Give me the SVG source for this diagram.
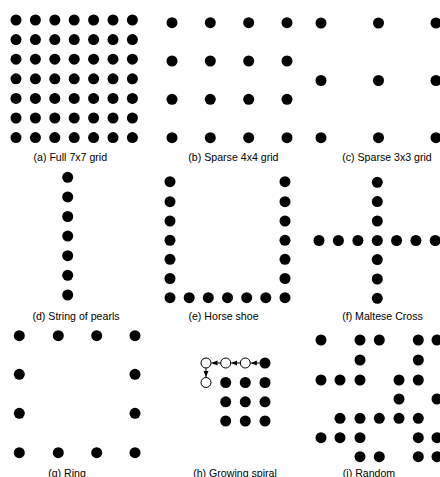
<svg xmlns="http://www.w3.org/2000/svg" width="440" height="477" viewBox="0 0 440 477">
<defs>
<style>
.d{fill:#000}
.o{fill:#fff;stroke:#000;stroke-width:1}
.lbl{font-family:"Liberation Sans",Arial,sans-serif;font-size:10.6px;fill:#000;text-anchor:middle}
.c{stroke:#000;stroke-width:1;fill:none}
</style>
<marker id="ah" markerUnits="userSpaceOnUse" markerWidth="6" markerHeight="6" refX="6" refY="3" orient="auto">
<path d="M0,0.5 L6,3 L0,5.5 z" fill="#000"/>
</marker>
</defs>
<rect width="440" height="477" fill="#fff"/>

<g id="panel-a">
<g id="a-dots">
<circle class="d" cx="16" cy="20" r="5.5"/><circle class="d" cx="35.4" cy="20" r="5.5"/><circle class="d" cx="54.8" cy="20" r="5.5"/><circle class="d" cx="74.2" cy="20" r="5.5"/><circle class="d" cx="93.6" cy="20" r="5.5"/><circle class="d" cx="113" cy="20" r="5.5"/><circle class="d" cx="132.4" cy="20" r="5.5"/>
<circle class="d" cx="16" cy="39.6" r="5.5"/><circle class="d" cx="35.4" cy="39.6" r="5.5"/><circle class="d" cx="54.8" cy="39.6" r="5.5"/><circle class="d" cx="74.2" cy="39.6" r="5.5"/><circle class="d" cx="93.6" cy="39.6" r="5.5"/><circle class="d" cx="113" cy="39.6" r="5.5"/><circle class="d" cx="132.4" cy="39.6" r="5.5"/>
<circle class="d" cx="16" cy="59.2" r="5.5"/><circle class="d" cx="35.4" cy="59.2" r="5.5"/><circle class="d" cx="54.8" cy="59.2" r="5.5"/><circle class="d" cx="74.2" cy="59.2" r="5.5"/><circle class="d" cx="93.6" cy="59.2" r="5.5"/><circle class="d" cx="113" cy="59.2" r="5.5"/><circle class="d" cx="132.4" cy="59.2" r="5.5"/>
<circle class="d" cx="16" cy="78.8" r="5.5"/><circle class="d" cx="35.4" cy="78.8" r="5.5"/><circle class="d" cx="54.8" cy="78.8" r="5.5"/><circle class="d" cx="74.2" cy="78.8" r="5.5"/><circle class="d" cx="93.6" cy="78.8" r="5.5"/><circle class="d" cx="113" cy="78.8" r="5.5"/><circle class="d" cx="132.4" cy="78.8" r="5.5"/>
<circle class="d" cx="16" cy="98.4" r="5.5"/><circle class="d" cx="35.4" cy="98.4" r="5.5"/><circle class="d" cx="54.8" cy="98.4" r="5.5"/><circle class="d" cx="74.2" cy="98.4" r="5.5"/><circle class="d" cx="93.6" cy="98.4" r="5.5"/><circle class="d" cx="113" cy="98.4" r="5.5"/><circle class="d" cx="132.4" cy="98.4" r="5.5"/>
<circle class="d" cx="16" cy="118" r="5.5"/><circle class="d" cx="35.4" cy="118" r="5.5"/><circle class="d" cx="54.8" cy="118" r="5.5"/><circle class="d" cx="74.2" cy="118" r="5.5"/><circle class="d" cx="93.6" cy="118" r="5.5"/><circle class="d" cx="113" cy="118" r="5.5"/><circle class="d" cx="132.4" cy="118" r="5.5"/>
<circle class="d" cx="16" cy="137.6" r="5.5"/><circle class="d" cx="35.4" cy="137.6" r="5.5"/><circle class="d" cx="54.8" cy="137.6" r="5.5"/><circle class="d" cx="74.2" cy="137.6" r="5.5"/><circle class="d" cx="93.6" cy="137.6" r="5.5"/><circle class="d" cx="113" cy="137.6" r="5.5"/><circle class="d" cx="132.4" cy="137.6" r="5.5"/>
</g>
<text class="lbl" x="70.3" y="160.8">(a) Full 7x7 grid</text>
</g>

<g id="panel-b">
<circle class="d" cx="172" cy="22.7" r="5.5"/><circle class="d" cx="210.3" cy="22.7" r="5.5"/><circle class="d" cx="248.7" cy="22.7" r="5.5"/><circle class="d" cx="287" cy="22.7" r="5.5"/>
<circle class="d" cx="172" cy="61" r="5.5"/><circle class="d" cx="210.3" cy="61" r="5.5"/><circle class="d" cx="248.7" cy="61" r="5.5"/><circle class="d" cx="287" cy="61" r="5.5"/>
<circle class="d" cx="172" cy="99.3" r="5.5"/><circle class="d" cx="210.3" cy="99.3" r="5.5"/><circle class="d" cx="248.7" cy="99.3" r="5.5"/><circle class="d" cx="287" cy="99.3" r="5.5"/>
<circle class="d" cx="172" cy="137.7" r="5.5"/><circle class="d" cx="210.3" cy="137.7" r="5.5"/><circle class="d" cx="248.7" cy="137.7" r="5.5"/><circle class="d" cx="287" cy="137.7" r="5.5"/>
<text class="lbl" x="233.4" y="160.8">(b) Sparse 4x4 grid</text>
</g>

<g id="panel-c">
<circle class="d" cx="321" cy="23" r="5.5"/><circle class="d" cx="378.5" cy="23" r="5.5"/><circle class="d" cx="436" cy="23" r="5.5"/>
<circle class="d" cx="321" cy="80.5" r="5.5"/><circle class="d" cx="378.5" cy="80.5" r="5.5"/><circle class="d" cx="436" cy="80.5" r="5.5"/>
<circle class="d" cx="321" cy="137.7" r="5.5"/><circle class="d" cx="378.5" cy="137.7" r="5.5"/><circle class="d" cx="436" cy="137.7" r="5.5"/>
<text class="lbl" x="387" y="160.8">(c) Sparse 3x3 grid</text>
</g>

<g id="panel-d">
<circle class="d" cx="67.7" cy="177.3" r="5.5"/><circle class="d" cx="67.7" cy="196.9" r="5.5"/><circle class="d" cx="67.7" cy="216.5" r="5.5"/><circle class="d" cx="67.7" cy="236.1" r="5.5"/><circle class="d" cx="67.7" cy="255.7" r="5.5"/><circle class="d" cx="67.7" cy="275.3" r="5.5"/><circle class="d" cx="67.7" cy="295" r="5.5"/>
<text class="lbl" x="76" y="319.5">(d) String of pearls</text>
</g>

<g id="panel-e">
<circle class="d" cx="170" cy="181.7" r="5.5"/><circle class="d" cx="170" cy="201.7" r="5.5"/><circle class="d" cx="170" cy="221" r="5.5"/><circle class="d" cx="170" cy="240.3" r="5.5"/><circle class="d" cx="170" cy="259.3" r="5.5"/><circle class="d" cx="170" cy="278.5" r="5.5"/>
<circle class="d" cx="285" cy="181.7" r="5.5"/><circle class="d" cx="285" cy="201.7" r="5.5"/><circle class="d" cx="285" cy="221" r="5.5"/><circle class="d" cx="285" cy="240.3" r="5.5"/><circle class="d" cx="285" cy="259.3" r="5.5"/><circle class="d" cx="285" cy="278.5" r="5.5"/>
<circle class="d" cx="170" cy="297.7" r="5.5"/><circle class="d" cx="189.2" cy="297.7" r="5.5"/><circle class="d" cx="208.3" cy="297.7" r="5.5"/><circle class="d" cx="227.5" cy="297.7" r="5.5"/><circle class="d" cx="246.7" cy="297.7" r="5.5"/><circle class="d" cx="265.8" cy="297.7" r="5.5"/><circle class="d" cx="285" cy="297.7" r="5.5"/>
<text class="lbl" x="223.5" y="319.5">(e) Horse shoe</text>
</g>

<g id="panel-f">
<circle class="d" cx="377.3" cy="182.3" r="5.5"/><circle class="d" cx="377.3" cy="201.6" r="5.5"/><circle class="d" cx="377.3" cy="221" r="5.5"/>
<circle class="d" cx="377.3" cy="259.6" r="5.5"/><circle class="d" cx="377.3" cy="279" r="5.5"/><circle class="d" cx="377.3" cy="298.3" r="5.5"/>
<circle class="d" cx="319" cy="240.5" r="5.5"/><circle class="d" cx="338.4" cy="240.5" r="5.5"/><circle class="d" cx="357.9" cy="240.5" r="5.5"/><circle class="d" cx="377.3" cy="240.5" r="5.5"/><circle class="d" cx="396.6" cy="240.5" r="5.5"/><circle class="d" cx="415.9" cy="240.5" r="5.5"/><circle class="d" cx="435.2" cy="240.5" r="5.5"/>
<text class="lbl" x="382.5" y="319.5">(f) Maltese Cross</text>
</g>

<g id="panel-g">
<circle class="d" cx="19.3" cy="335.7" r="5.5"/><circle class="d" cx="58.3" cy="335.7" r="5.5"/><circle class="d" cx="96.7" cy="335.7" r="5.5"/><circle class="d" cx="135" cy="335.7" r="5.5"/>
<circle class="d" cx="19.3" cy="374.3" r="5.5"/><circle class="d" cx="135" cy="374.3" r="5.5"/>
<circle class="d" cx="19.3" cy="413.3" r="5.5"/><circle class="d" cx="135" cy="413.3" r="5.5"/>
<circle class="d" cx="19.3" cy="452.7" r="5.5"/><circle class="d" cx="58.3" cy="452.7" r="5.5"/><circle class="d" cx="96.7" cy="452.7" r="5.5"/><circle class="d" cx="135" cy="452.7" r="5.5"/>
<text class="lbl" x="67" y="476.5">(g) Ring</text>
</g>

<g id="panel-h">
<g id="h-nodes">
<circle class="o" cx="206" cy="363" r="5"/><circle class="o" cx="225.7" cy="363" r="5"/><circle class="o" cx="245.3" cy="363" r="5"/><circle class="d" cx="265" cy="363" r="5.5"/>
<circle class="o" cx="206" cy="382.5" r="5"/><circle class="d" cx="225.7" cy="382.5" r="5.5"/><circle class="d" cx="245.3" cy="382.5" r="5.5"/><circle class="d" cx="265" cy="382.5" r="5.5"/>
<circle class="d" cx="225.7" cy="401.8" r="5.5"/><circle class="d" cx="245.3" cy="401.8" r="5.5"/><circle class="d" cx="265" cy="401.8" r="5.5"/>
<circle class="d" cx="225.7" cy="421" r="5.5"/><circle class="d" cx="245.3" cy="421" r="5.5"/><circle class="d" cx="265" cy="421" r="5.5"/>
</g>
<g id="h-connectors">
<line class="c" x1="259.5" y1="363" x2="250.8" y2="363" marker-end="url(#ah)"/>
<line class="c" x1="240.3" y1="363" x2="231.2" y2="363" marker-end="url(#ah)"/>
<line class="c" x1="220.7" y1="363" x2="211.5" y2="363" marker-end="url(#ah)"/>
<line class="c" x1="206" y1="368" x2="206" y2="377" marker-end="url(#ah)"/>
</g>
<text class="lbl" x="235" y="476.5">(h) Growing spiral</text>
</g>

<g id="panel-i">
<circle class="d" cx="321" cy="340" r="5.5"/><circle class="d" cx="360" cy="340" r="5.5"/><circle class="d" cx="379.3" cy="340" r="5.5"/><circle class="d" cx="418.3" cy="340" r="5.5"/><circle class="d" cx="437" cy="340" r="5.5"/>
<circle class="d" cx="360" cy="360" r="5.5"/><circle class="d" cx="418.3" cy="360" r="5.5"/>
<circle class="d" cx="321" cy="380" r="5.5"/><circle class="d" cx="340" cy="380" r="5.5"/><circle class="d" cx="360" cy="380" r="5.5"/><circle class="d" cx="399" cy="380" r="5.5"/><circle class="d" cx="418.3" cy="380" r="5.5"/>
<circle class="d" cx="399" cy="399" r="5.5"/><circle class="d" cx="437" cy="399" r="5.5"/>
<circle class="d" cx="340" cy="418.3" r="5.5"/><circle class="d" cx="360" cy="418.3" r="5.5"/><circle class="d" cx="379.3" cy="418.3" r="5.5"/><circle class="d" cx="399" cy="418.3" r="5.5"/><circle class="d" cx="418.3" cy="418.3" r="5.5"/>
<circle class="d" cx="321" cy="437.7" r="5.5"/><circle class="d" cx="340" cy="437.7" r="5.5"/><circle class="d" cx="360" cy="437.7" r="5.5"/><circle class="d" cx="418.3" cy="437.7" r="5.5"/><circle class="d" cx="437" cy="437.7" r="5.5"/>
<circle class="d" cx="360" cy="456.7" r="5.5"/><circle class="d" cx="379.3" cy="456.7" r="5.5"/><circle class="d" cx="418.3" cy="456.7" r="5.5"/><circle class="d" cx="437" cy="456.7" r="5.5"/>
<text class="lbl" x="369" y="476.5">(i) Random</text>
</g>
</svg>
